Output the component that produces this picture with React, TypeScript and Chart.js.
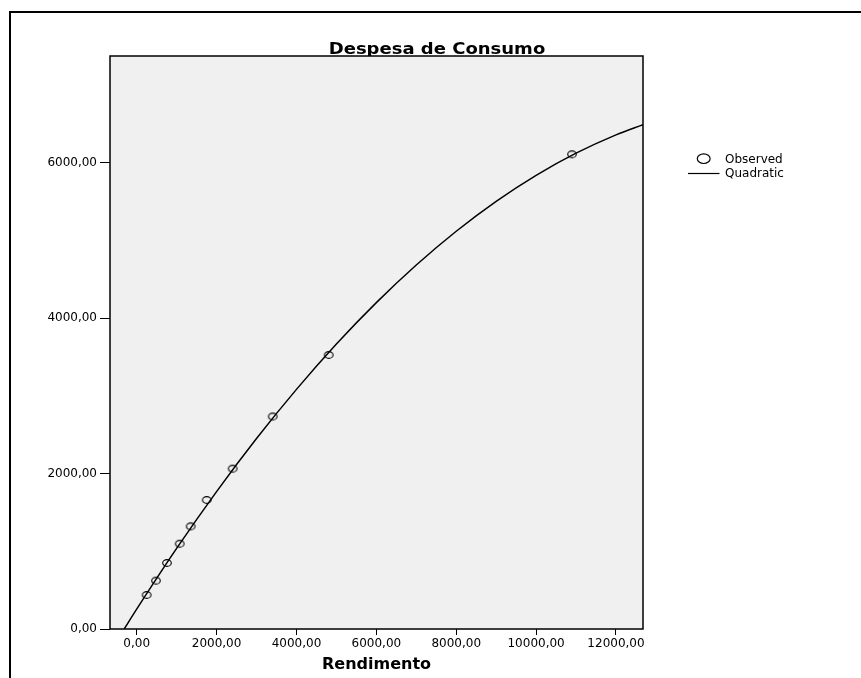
import React, { useEffect, useRef } from "react";
import { Chart, registerables } from "chart.js";

Chart.register(...registerables);

const TITLE = "Despesa de Consumo";
const X_TITLE = "Rendimento";
const SERIES_OBSERVED = "Observed";
const SERIES_FIT = "Quadratic";

// Observed points (Rendimento, Despesa de Consumo)
const OBS_X = [250, 483, 759, 1077, 1352, 1753, 2403, 3405, 4807, 10898];
const OBS_Y = [438, 622, 850, 1098, 1322, 1661, 2064, 2736, 3528, 6112];

// Quadratic fit curve
const FIT_X = [-313, 0, 1000, 2000, 3000, 4000, 5000, 6000, 7000, 8000, 9000, 10000, 11000, 12000, 12676];
const FIT_Y = [0, 255, 1037, 1769, 2452, 3085, 3669, 4202, 4686, 5121, 5506, 5841, 6126, 6362, 6493];

const X_TICKS = [0, 2000, 4000, 6000, 8000, 10000, 12000];
const Y_TICKS = [0, 2000, 4000, 6000];
const X_MIN = -668;
const X_MAX = 12676;
const Y_MIN = 0;
const Y_MAX = 7377;

const FONT = '"DejaVu Sans", "Liberation Sans", sans-serif';
const fmt = (v: number) => v.toFixed(2).replace(".", ",");

function makeMarker(): HTMLCanvasElement {
  const c = document.createElement("canvas");
  c.width = 12;
  c.height = 10;
  const ctx = c.getContext("2d")!;
  ctx.strokeStyle = "#000";
  ctx.lineWidth = 1.1;
  ctx.beginPath();
  ctx.ellipse(6, 5, 4.3, 3.4, 0, 0, Math.PI * 2);
  ctx.stroke();
  return c;
}

const decor = {
  id: "decor",
  beforeDraw(chart: any) {
    const ctx = chart.ctx;
    const a = chart.chartArea;
    ctx.save();
    ctx.strokeStyle = "#000";
    ctx.lineWidth = 2;
    ctx.beginPath();
    ctx.moveTo(10, 700);
    ctx.lineTo(10, 12);
    ctx.lineTo(900, 12);
    ctx.stroke();
    ctx.fillStyle = "#000";
    ctx.font = `bold 15px ${FONT}`;
    ctx.textAlign = "center";
    ctx.textBaseline = "alphabetic";
    ctx.translate(437, 53.5);
    ctx.scale(1.2, 1);
    ctx.fillText(TITLE, 0, 0);
    ctx.restore();
    ctx.save();
    ctx.fillStyle = "#f0f0f0";
    ctx.fillRect(a.left, a.top, a.right - a.left, a.bottom - a.top);
    ctx.restore();
  },
  beforeDatasetsDraw(chart: any) {
    const ctx = chart.ctx;
    const a = chart.chartArea;
    ctx.save();
    ctx.strokeStyle = "#000";
    ctx.lineWidth = 1.5;
    ctx.strokeRect(a.left, a.top, a.right - a.left, a.bottom - a.top);
    ctx.restore();
  },
  afterDraw(chart: any) {
    const ctx = chart.ctx;
    const ds = chart.data.datasets;
    ctx.save();
    ctx.strokeStyle = "#000";
    ctx.lineWidth = 1.2;
    ctx.beginPath();
    ctx.ellipse(703.7, 158.7, 6.4, 4.8, 0, 0, Math.PI * 2);
    ctx.stroke();
    ctx.lineWidth = 1.2;
    ctx.beginPath();
    ctx.moveTo(688, 173.5);
    ctx.lineTo(719.5, 173.5);
    ctx.stroke();
    ctx.fillStyle = "#000";
    ctx.font = `12px ${FONT}`;
    ctx.textAlign = "left";
    ctx.textBaseline = "middle";
    ctx.fillText(ds[0].label, 725, 159.6);
    ctx.fillText(ds[1].label, 725, 173.8);
    ctx.restore();
  },
};

export default function App() {
  const ref = useRef<HTMLCanvasElement | null>(null);

  useEffect(() => {
    document.body.style.margin = "0";
    const canvas = ref.current;
    if (!canvas) return;
    const marker = makeMarker();
    const chart = new Chart(canvas, {
      type: "scatter",
      data: {
        datasets: [
          {
            label: SERIES_OBSERVED,
            data: OBS_X.map((x, i) => ({ x, y: OBS_Y[i] })),
            showLine: false,
            pointStyle: marker,
            pointRadius: 5,
            pointBackgroundColor: "rgba(0,0,0,0)",
            pointBorderColor: "#000",
            pointBorderWidth: 1.2,
          },
          {
            label: SERIES_FIT,
            data: FIT_X.map((x, i) => ({ x, y: FIT_Y[i] })),
            showLine: true,
            pointRadius: 0,
            borderColor: "#000",
            borderWidth: 1.5,
            cubicInterpolationMode: "monotone",
            fill: false,
          },
        ],
      } as any,
      options: {
        animation: false,
        responsive: false,
        devicePixelRatio: 1,
        layout: { padding: { left: 0, top: 56, right: 218, bottom: 0 } },
        plugins: {
          legend: { display: false },
          tooltip: { enabled: false },
          title: { display: false },
        },
        scales: {
          x: {
            type: "linear",
            position: "bottom",
            min: X_MIN,
            max: X_MAX,
            afterBuildTicks: (s: any) => {
              s.ticks = X_TICKS.map((v) => ({ value: v }));
            },
            afterFit: (s: any) => {
              s.height = 49;
            },
            ticks: {
              font: { family: FONT, size: 12 },
              color: "#000",
              padding: 2,
              maxRotation: 0,
              autoSkip: false,
              callback: (v: any) => fmt(Number(v)),
            },
            grid: {
              drawOnChartArea: false,
              drawTicks: true,
              tickLength: 6,
              color: "#000",
              lineWidth: 1,
            },
            border: { display: false },
            title: {
              display: true,
              text: X_TITLE,
              color: "#000",
              font: { family: FONT, size: 16, weight: "bold" },
              padding: { top: 0, bottom: 4 },
            },
          },
          y: {
            type: "linear",
            position: "left",
            min: Y_MIN,
            max: Y_MAX,
            afterBuildTicks: (s: any) => {
              s.ticks = Y_TICKS.map((v) => ({ value: v }));
            },
            afterFit: (s: any) => {
              s.width = 110;
            },
            ticks: {
              font: { family: FONT, size: 12 },
              color: "#000",
              padding: 3,
              autoSkip: false,
              callback: (v: any) => fmt(Number(v)),
            },
            grid: {
              drawOnChartArea: false,
              drawTicks: true,
              tickLength: 10,
              color: "#000",
              lineWidth: 1,
            },
            border: { display: false },
          },
        },
      } as any,
      plugins: [decor],
    });
    return () => chart.destroy();
  }, []);

  return (
    <div style={{ width: 861, height: 678, overflow: "hidden", position: "relative" }}>
      <canvas ref={ref} width={861} height={678} style={{ display: "block", width: 861, height: 678 }} />
    </div>
  );
}
